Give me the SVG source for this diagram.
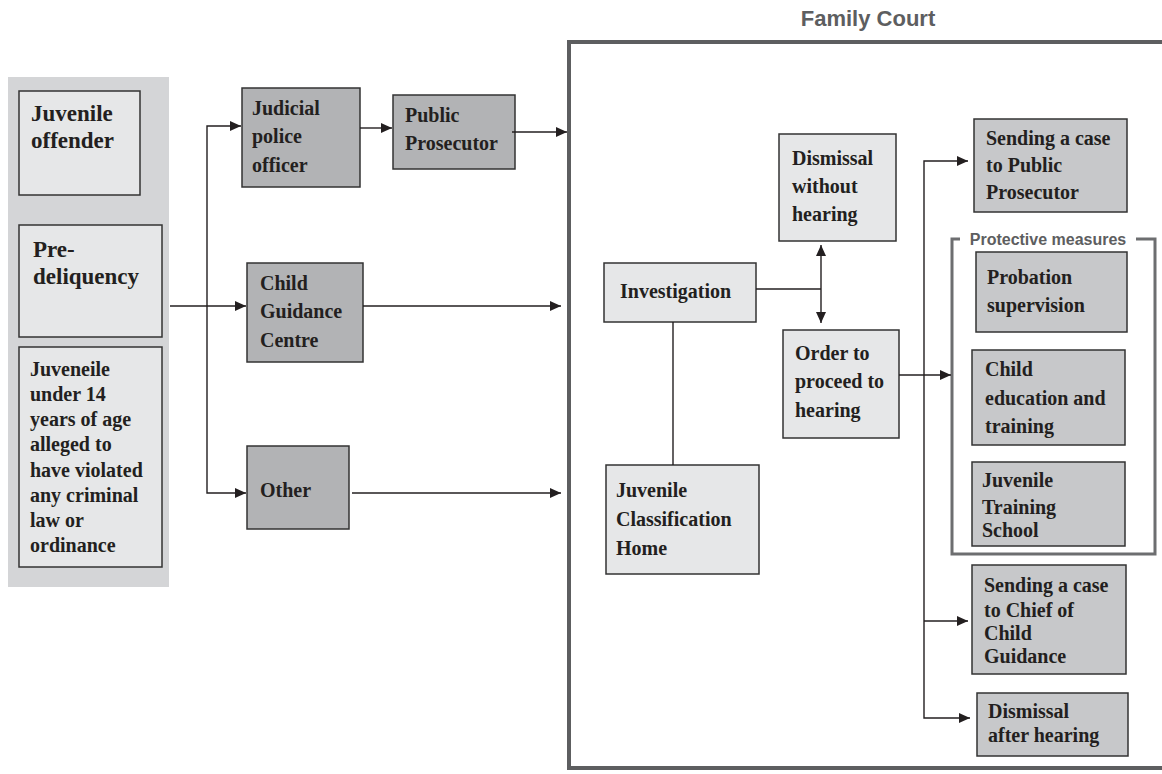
<svg xmlns="http://www.w3.org/2000/svg" width="1162" height="774" viewBox="0 0 1162 774">
<defs>
<marker id="ah" markerUnits="userSpaceOnUse" markerWidth="12" markerHeight="10" refX="11" refY="5" orient="auto"><path d="M0,0 L11,5 L0,10 Z" fill="#231f20"/></marker>
<marker id="ahs" markerUnits="userSpaceOnUse" markerWidth="12" markerHeight="10" refX="11" refY="5" orient="auto-start-reverse"><path d="M0,0 L11,5 L0,10 Z" fill="#231f20"/></marker>
</defs>
<style>
.lt{fill:#e6e7e8;stroke:#333;stroke-width:1.5}
.dk{fill:#b2b3b5;stroke:#333;stroke-width:1.5}
.md{fill:#c7c8ca;stroke:#333;stroke-width:1.5}
.t{font-family:"Liberation Serif","Times New Roman",serif;font-weight:bold;font-size:20px;fill:#231f20}
.tb{font-size:23px}
.c{fill:none;stroke:#231f20;stroke-width:1.4}
.s{font-family:"Liberation Sans",Arial,sans-serif;font-weight:bold;fill:#5d5e60}
</style>
<rect width="1162" height="774" fill="#fff"/>
<g id="panel"><rect x="8" y="77" width="161" height="510" fill="#d4d5d7"/></g>
<g id="family-court">
<rect x="569" y="42" width="620" height="726" fill="none" stroke="#5d5e60" stroke-width="4"/>
<text class="s" x="868" y="26" font-size="22" text-anchor="middle">Family Court</text>
</g>
<g id="protective-measures">
<path d="M960,239 H952 V554 H1155 V239 H1136" fill="none" stroke="#6d6e70" stroke-width="3"/>
<text class="s" x="1048" y="245" font-size="16" text-anchor="middle" fill="#6d6e70">Protective measures</text>
</g>
<g id="juvenile-offender"><rect class="lt" x="19" y="91" width="121" height="104"/>
<text class="t tb"><tspan x="31" y="121">Juvenile</tspan><tspan x="31" y="148">offender</tspan></text></g>
<g id="pre-delinquency"><rect class="lt" x="19" y="225" width="143" height="112"/>
<text class="t tb"><tspan x="33" y="257">Pre-</tspan><tspan x="33" y="284">deliquency</tspan></text></g>
<g id="juvenile-under-14"><rect class="lt" x="19" y="347" width="143" height="220"/>
<text class="t"><tspan x="30" y="376">Juveneile</tspan><tspan x="30" y="401">under 14</tspan><tspan x="30" y="426">years of age</tspan><tspan x="30" y="451">alleged to</tspan><tspan x="30" y="477">have violated</tspan><tspan x="30" y="502">any criminal</tspan><tspan x="30" y="527">law or</tspan><tspan x="30" y="552">ordinance</tspan></text></g>
<g id="judicial-police"><rect class="dk" x="242" y="88" width="118" height="99"/>
<text class="t"><tspan x="252" y="115">Judicial</tspan><tspan x="252" y="143">police</tspan><tspan x="252" y="172">officer</tspan></text></g>
<g id="public-prosecutor"><rect class="dk" x="393" y="95" width="122" height="74"/>
<text class="t"><tspan x="405" y="122">Public</tspan><tspan x="405" y="150">Prosecutor</tspan></text></g>
<g id="child-guidance"><rect class="dk" x="247" y="263" width="116" height="99"/>
<text class="t"><tspan x="260" y="290">Child</tspan><tspan x="260" y="318">Guidance</tspan><tspan x="260" y="347">Centre</tspan></text></g>
<g id="other"><rect class="dk" x="247" y="446" width="102" height="83"/>
<text class="t"><tspan x="260" y="497">Other</tspan></text></g>
<g id="dismissal-without"><rect class="lt" x="779" y="134" width="117" height="107"/>
<text class="t"><tspan x="792" y="165">Dismissal</tspan><tspan x="792" y="193">without</tspan><tspan x="792" y="221">hearing</tspan></text></g>
<g id="investigation"><rect class="lt" x="604" y="263" width="152" height="59"/>
<text class="t"><tspan x="620" y="298">Investigation</tspan></text></g>
<g id="order-to-proceed"><rect class="lt" x="783" y="330" width="116" height="108"/>
<text class="t"><tspan x="795" y="360">Order to</tspan><tspan x="795" y="388">proceed to</tspan><tspan x="795" y="417">hearing</tspan></text></g>
<g id="classification-home"><rect class="lt" x="606" y="465" width="153" height="109"/>
<text class="t"><tspan x="616" y="497">Juvenile</tspan><tspan x="616" y="526">Classification</tspan><tspan x="616" y="555">Home</tspan></text></g>
<g id="send-prosecutor"><rect class="md" x="974" y="119" width="153" height="93"/>
<text class="t"><tspan x="986" y="145">Sending a case</tspan><tspan x="986" y="172">to Public</tspan><tspan x="986" y="199">Prosecutor</tspan></text></g>
<g id="probation"><rect class="md" x="976" y="252" width="151" height="80"/>
<text class="t"><tspan x="987" y="284">Probation</tspan><tspan x="987" y="312">supervision</tspan></text></g>
<g id="child-education"><rect class="md" x="972" y="350" width="153" height="95"/>
<text class="t"><tspan x="985" y="376">Child</tspan><tspan x="985" y="405">education and</tspan><tspan x="985" y="433">training</tspan></text></g>
<g id="training-school"><rect class="md" x="972" y="462" width="153" height="84"/>
<text class="t"><tspan x="982" y="487">Juvenile</tspan><tspan x="982" y="514">Training</tspan><tspan x="982" y="537">School</tspan></text></g>
<g id="send-chief"><rect class="md" x="972" y="565" width="154" height="109"/>
<text class="t"><tspan x="984" y="592">Sending a case</tspan><tspan x="984" y="617">to Chief of</tspan><tspan x="984" y="640">Child</tspan><tspan x="984" y="663">Guidance</tspan></text></g>
<g id="dismissal-after"><rect class="md" x="977" y="693" width="151" height="63"/>
<text class="t"><tspan x="988" y="718">Dismissal</tspan><tspan x="988" y="742">after hearing</tspan></text></g>
<g id="connectors">
<path class="c" d="M170,306 H246" marker-end="url(#ah)"/>
<path class="c" d="M241,126 H207 V493 H246" marker-start="url(#ahs)" marker-end="url(#ah)"/>
<path class="c" d="M360,128 H392" marker-end="url(#ah)"/>
<path class="c" d="M512,132 H567" marker-end="url(#ah)"/>
<path class="c" d="M363,306 H561" marker-end="url(#ah)"/>
<path class="c" d="M352,493 H561" marker-end="url(#ah)"/>
<path class="c" d="M756,289 H821"/>
<path class="c" d="M821,245 V323" marker-start="url(#ahs)" marker-end="url(#ah)"/>
<path class="c" d="M673,322 V465"/>
<path class="c" d="M899,375 H951" marker-end="url(#ah)"/>
<path class="c" d="M968,161 H924 V718 H970" marker-start="url(#ahs)" marker-end="url(#ah)"/>
<path class="c" d="M924,621 H968" marker-end="url(#ah)"/>
</g>
</svg>
